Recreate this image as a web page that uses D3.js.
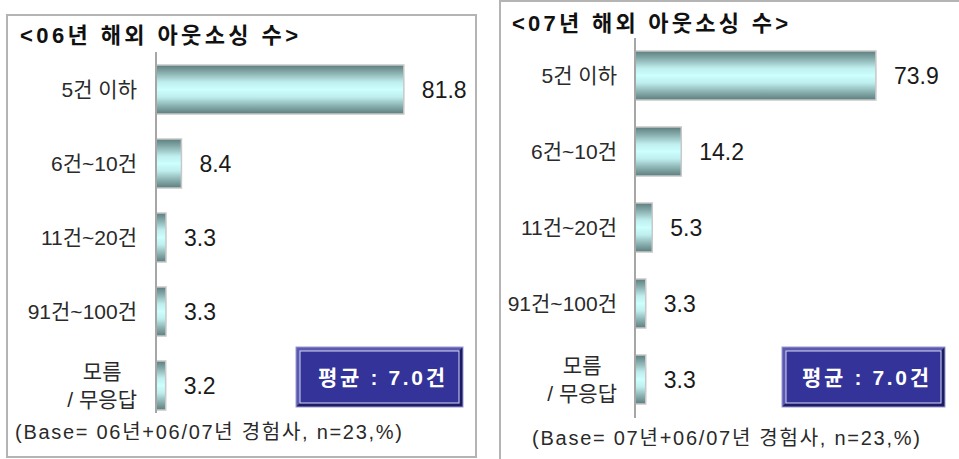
<!DOCTYPE html>
<html>
<head>
<meta charset="utf-8">
<script src="https://cdn.jsdelivr.net/npm/d3@7"></script>
<style>
  body { margin: 0; background: #fff; }
  svg { display: block; }
</style>
</head>
<body>
<svg id="chart" width="959" height="459"></svg>
<script>
// data
const categories = ['5건 이하', '6건~10건', '11건~20건', '91건~100건', '모름\n/ 무응답'];
const values06 = [81.8, 8.4, 3.3, 3.3, 3.2];
const values07 = [73.9, 14.2, 5.3, 3.3, 3.3];
const titles = ['<06년 해외 아웃소싱 수>', '<07년 해외 아웃소싱 수>'];
const notes = ['(Base= 06년+06/07년 경험사, n=23,%)', '(Base= 07년+06/07년 경험사, n=23,%)'];
const averages = ['평균 : 7.0건', '평균 : 7.0건'];

const FONT = '"Liberation Sans", Arial, "Noto Sans CJK KR", sans-serif';

const svg = d3.select('#chart');

// bar gradient (dark edges, light cyan middle)
const grad = svg.append('defs').append('linearGradient')
  .attr('id', 'barGrad')
  .attr('x1', 0).attr('y1', 0).attr('x2', 0).attr('y2', 1);
[[0, '#5c7d7d'], [0.15, '#86abab'], [0.35, '#bfeeee'], [0.5, '#ccffff'],
 [0.65, '#bfeeee'], [0.85, '#86abab'], [1, '#5c7d7d']].forEach(s => {
  grad.append('stop').attr('offset', s[0]).attr('stop-color', s[1]);
});

// panel layouts
const panels = [
  {
    values: values06, title: titles[0], note: notes[0], avg: averages[0],
    frame: { x: 7, y: 15, w: 469, h: 442 },
    titleX: 20, titleY: 43, titleW: 278,
    axisX: 156, axisY: [52, 413], xMax: 459,
    band: [52.5, 422.5], pad: 25 / 74,
    labelRight: 137,
    noteX: 15, noteY: 439, noteW: 387,
    box: { x: 296, y: 347, w: 167, h: 60 }
  },
  {
    values: values07, title: titles[1], note: notes[1], avg: averages[1],
    frame: { x: 500, y: 1, w: 470, h: 470 },
    titleX: 512, titleY: 31, titleW: 276,
    axisX: 635, axisY: [38, 418], xMax: 961,
    band: [37.5, 417.5], pad: 27 / 76,
    labelRight: 617,
    noteX: 532, noteY: 445, noteW: 388,
    box: { x: 782, y: 347, w: 163, h: 60 }
  }
];

panels.forEach(p => {
  const g = svg.append('g');

  // frame
  g.append('rect')
    .attr('x', p.frame.x).attr('y', p.frame.y)
    .attr('width', p.frame.w).attr('height', p.frame.h)
    .attr('fill', '#fff')
    .attr('stroke', '#b4b4b4')
    .attr('stroke-width', 2);

  // title
  g.append('text')
    .attr('x', p.titleX).attr('y', p.titleY)
    .attr('font-family', FONT)
    .attr('font-size', '22px')
    .attr('font-weight', 'bold')
    .attr('fill', '#111')
    .attr('textLength', p.titleW)
    .attr('lengthAdjust', 'spacing')
    .text(p.title);

  const x = d3.scaleLinear().domain([0, 100]).range([p.axisX, p.xMax]);
  const y = d3.scaleBand()
    .domain(categories)
    .range(p.band)
    .paddingInner(p.pad)
    .paddingOuter(p.pad / 2);

  // bars
  g.selectAll('rect.bar')
    .data(p.values)
    .enter()
    .append('rect')
    .attr('class', 'bar')
    .attr('x', x(0))
    .attr('y', (d, i) => y(categories[i]))
    .attr('width', d => x(d) - x(0))
    .attr('height', y.bandwidth())
    .attr('fill', 'url(#barGrad)')
    .attr('stroke', '#c8c8c8')
    .attr('stroke-width', 1.5);

  // axis line
  g.append('line')
    .attr('x1', p.axisX).attr('x2', p.axisX)
    .attr('y1', p.axisY[0]).attr('y2', p.axisY[1])
    .attr('stroke', '#a6a6a6')
    .attr('stroke-width', 2);

  // value labels
  g.selectAll('text.val')
    .data(p.values)
    .enter()
    .append('text')
    .attr('class', 'val')
    .attr('x', d => x(d) + 18)
    .attr('y', (d, i) => y(categories[i]) + y.bandwidth() / 2)
    .attr('dy', '0.36em')
    .attr('font-family', FONT)
    .attr('font-size', '23px')
    .attr('fill', '#1a1a1a')
    .text(d => d.toFixed(1));

  // category labels (multi-line ones are centred)
  categories.forEach((c, i) => {
    const lines = c.split('\n');
    const cy = y(c) + y.bandwidth() / 2;
    const t = g.append('text')
      .attr('font-family', FONT)
      .attr('font-size', '21px')
      .attr('fill', '#2a2a2a');
    if (lines.length === 1) {
      t.attr('x', p.labelRight).attr('y', cy).attr('dy', '0.36em')
        .attr('text-anchor', 'end').text(c);
    } else {
      lines.forEach((l, j) => {
        t.append('tspan')
          .attr('y', cy + (j - (lines.length - 1) / 2) * 28)
          .attr('dy', '0.36em')
          .text(l);
      });
      const w = d3.max(t.selectAll('tspan').nodes(), n => n.getComputedTextLength());
      t.attr('text-anchor', 'middle');
      t.selectAll('tspan').attr('x', p.labelRight - w / 2);
    }
  });

  // base note
  g.append('text')
    .attr('x', p.noteX).attr('y', p.noteY)
    .attr('font-family', FONT)
    .attr('font-size', '20px')
    .attr('fill', '#2a2a2a')
    .attr('textLength', p.noteW)
    .attr('lengthAdjust', 'spacing')
    .text(p.note);

  // average box with bevel
  const b = p.box, bv = 4;
  const bg = g.append('g');
  bg.append('rect')
    .attr('x', b.x).attr('y', b.y).attr('width', b.w).attr('height', b.h)
    .attr('fill', '#333399');
  bg.append('path')
    .attr('d', `M${b.x},${b.y}H${b.x + b.w}L${b.x + b.w - bv},${b.y + bv}H${b.x + bv}V${b.y + b.h - bv}L${b.x},${b.y + b.h}Z`)
    .attr('fill', '#5a5ab0');
  bg.append('path')
    .attr('d', `M${b.x + b.w},${b.y}V${b.y + b.h}H${b.x}L${b.x + bv},${b.y + b.h - bv}H${b.x + b.w - bv}V${b.y + bv}Z`)
    .attr('fill', '#1c1c66');
  bg.append('rect')
    .attr('x', b.x + bv).attr('y', b.y + bv)
    .attr('width', b.w - 2 * bv).attr('height', b.h - 2 * bv)
    .attr('fill', 'none')
    .attr('stroke', '#d8d8f4')
    .attr('stroke-width', 1);
  bg.append('rect')
    .attr('x', b.x).attr('y', b.y).attr('width', b.w).attr('height', b.h)
    .attr('fill', 'none')
    .attr('stroke', '#9a9ad0')
    .attr('stroke-width', 1);
  bg.append('text')
    .attr('x', b.x + b.w / 2 + 2).attr('y', b.y + b.h / 2)
    .attr('dy', '0.36em')
    .attr('text-anchor', 'middle')
    .attr('font-family', FONT)
    .attr('font-size', '21px')
    .attr('font-weight', 'bold')
    .attr('fill', '#fff')
    .attr('textLength', 127)
    .attr('lengthAdjust', 'spacing')
    .text(p.avg);
});
</script>
</body>
</html>
